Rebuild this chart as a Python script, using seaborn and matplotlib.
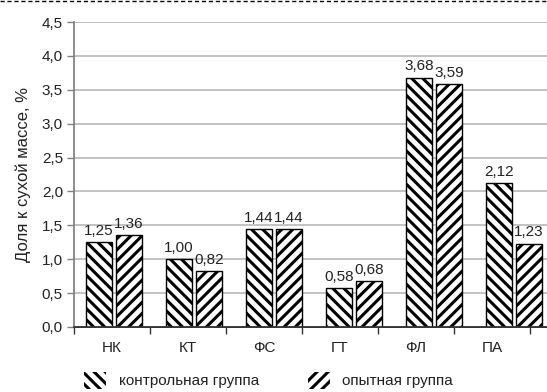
import matplotlib
matplotlib.use("Agg")
import matplotlib.pyplot as plt
import matplotlib.ticker as mticker
from matplotlib.patches import Patch
import pandas as pd
import seaborn as sns

categories = ["НК", "КТ", "ФС", "ГТ", "ФЛ", "ПА"]
control = [1.25, 1.00, 1.44, 0.58, 3.68, 2.12]
experimental = [1.36, 0.82, 1.44, 0.68, 3.59, 1.23]
groups = ["контрольная группа", "опытная группа"]
hatches = ["\\\\\\", "///"]

df = pd.DataFrame({
    "cat": categories * 2,
    "val": control + experimental,
    "group": [groups[0]] * 6 + [groups[1]] * 6,
})

sns.set_theme(style="white")
plt.rcParams["font.family"] = ["Liberation Sans", "DejaVu Sans"]
plt.rcParams["hatch.linewidth"] = 2.2
plt.rcParams["hatch.color"] = "black"

fig = plt.figure(figsize=(5.47, 3.92), dpi=100)
ax = fig.add_axes([74 / 547, 65 / 392, 480 / 547, 305 / 392])

sns.barplot(data=df, x="cat", y="val", hue="group", palette=["white", "white"],
            edgecolor="black", linewidth=1, width=0.75, gap=0.12,
            legend=False, ax=ax)

for cont, h, vals in zip(ax.containers, hatches, [control, experimental]):
    for p in cont:
        p.set_hatch(h)
    ax.bar_label(cont, labels=[f"{v:.2f}".replace(".", ",") for v in vals],
                 padding=3, fontsize=11, color="#222222")

ax.set_ylim(0, 4.5)
ax.set_xlim(-0.5, 5.5)
ax.yaxis.set_major_locator(mticker.MultipleLocator(0.5))
ax.yaxis.set_major_formatter(mticker.FuncFormatter(lambda v, p: f"{v:.1f}".replace(".", ",")))
ax.grid(axis="y", color="#b8b8b8", linewidth=1.2)
ax.set_axisbelow(True)
ax.tick_params(axis="y", left=True, length=5, width=1, color="#808080",
               labelsize=11, labelcolor="#222222", pad=3)
ax.set_xticks([])
ax.set_xlabel("")
ax.set_ylabel("Доля к сухой массе, %", fontsize=12, color="#222222", labelpad=8)
for s in ["top", "right"]:
    ax.spines[s].set_visible(False)
ax.spines["left"].set_color("#808080")
ax.spines["bottom"].set_color("#333333")

# category axis drawn a little tighter than the bars, like the source picture
k = 80 / 76
sec = ax.secondary_xaxis("bottom", functions=(lambda x: (x + 0.5) * k - 0.5,
                                               lambda u: (u + 0.5) / k - 0.5))
sec.set_xticks(range(len(categories)))
sec.set_xticklabels(categories)
sec.xaxis.set_minor_locator(mticker.FixedLocator([i - 0.5 for i in range(len(categories) + 1)]))
sec.tick_params(axis="x", which="major", length=0, labelsize=11, labelcolor="#222222", pad=10)
sec.tick_params(axis="x", which="minor", length=5, width=1, color="#333333")
sec.spines["bottom"].set_color("#333333")

handles = [Patch(facecolor="white", edgecolor="black", linewidth=0, hatch=h) for h in hatches]
fig.legend(handles, groups, loc="center", bbox_to_anchor=(0.491, 0.03), ncol=2,
           frameon=False, fontsize=11, handlelength=1.45, handleheight=1.3,
           handletextpad=0.8, columnspacing=3.2, labelcolor="#222222")

fig.add_artist(plt.Line2D([0, 1], [0.997, 0.997], transform=fig.transFigure,
                          color="black", linewidth=1, linestyle=(0, (3, 2))))

fig.savefig("out.png", dpi=100)
